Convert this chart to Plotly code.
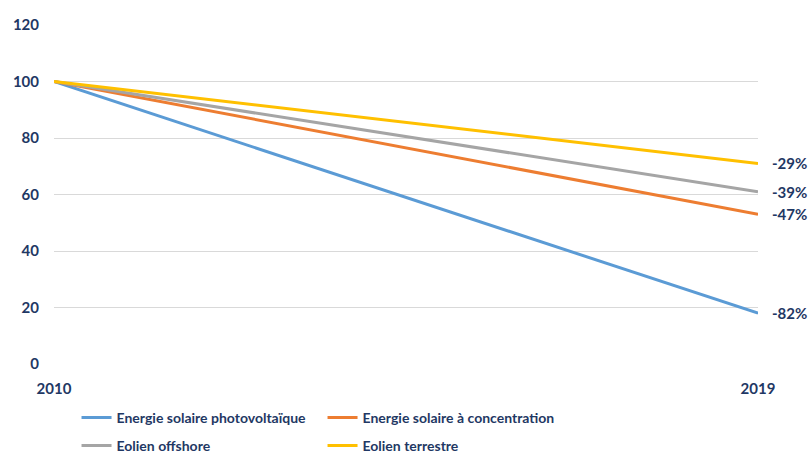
import plotly.graph_objects as go

# Indexed cost trajectories (2010 = 100)
years = [2010, 2019]
series_names = [
    "Energie solaire photovoltaïque",
    "Energie solaire à concentration",
    "Eolien offshore",
    "Eolien terrestre",
]
start_values = [100, 100, 100, 100]
end_values = [18, 53, 61, 71]
end_labels = ["-82%", "-47%", "-39%", "-29%"]
colors = ["#5B9BD5", "#ED7D31", "#A5A5A5", "#FFC000"]
legend_rows = ["legend", "legend", "legend2", "legend2"]

y_ticks = [0, 20, 40, 60, 80, 100, 120]

navy = "#1F3864"
font_family = "Lato, 'Open Sans', sans-serif"

fig = go.Figure()
for name, v0, v1, col, lg in zip(series_names, start_values, end_values, colors, legend_rows):
    fig.add_trace(go.Scatter(
        x=years, y=[v0, v1], mode="lines", name=name, legend=lg,
        line=dict(color=col, width=3),
    ))

# End-of-line percentage labels
for v1, lab in zip(end_values, end_labels):
    fig.add_annotation(
        x=years[-1], y=v1, text="<b>%s</b>" % lab, showarrow=False,
        xref="x", yref="y", xanchor="left", xshift=12,
        font=dict(color=navy, size=15, family=font_family),
    )

legend_style = dict(
    orientation="h", x=0.032, xanchor="left", yanchor="middle",
    yref="container",
    entrywidth=201, entrywidthmode="pixels",
    font=dict(size=14, color=navy, family=font_family, weight="bold"),
    tracegroupgap=0, itemwidth=30,
    bgcolor="rgba(0,0,0,0)",
)

fig.update_layout(
    width=811, height=453,
    margin=dict(l=54, r=53, t=25, b=89),
    paper_bgcolor="white", plot_bgcolor="white",
    font=dict(family=font_family, color=navy, size=15),
    showlegend=True,
    legend=dict(legend_style, y=1 - 418 / 453),
    legend2=dict(legend_style, y=1 - 446 / 453),
    xaxis=dict(
        range=[2010, 2019], tickvals=years,
        ticktext=["<b>%d</b>" % y for y in years],
        showgrid=True, gridcolor="#D9D9D9", gridwidth=1,
        zeroline=False, showline=False, ticks="",
        ticklabelstandoff=14, automargin=False,
        tickfont=dict(size=15, color=navy),
    ),
    yaxis=dict(
        range=[0, 120], tickvals=y_ticks,
        ticktext=["<b>%d</b>" % v for v in y_ticks],
        showgrid=True, gridcolor="#D9D9D9", gridwidth=1,
        zeroline=False, showline=False, ticks="",
        ticklabelstandoff=14, automargin=False,
        tickfont=dict(size=15, color=navy),
    ),
)

fig.write_html("out.html")
